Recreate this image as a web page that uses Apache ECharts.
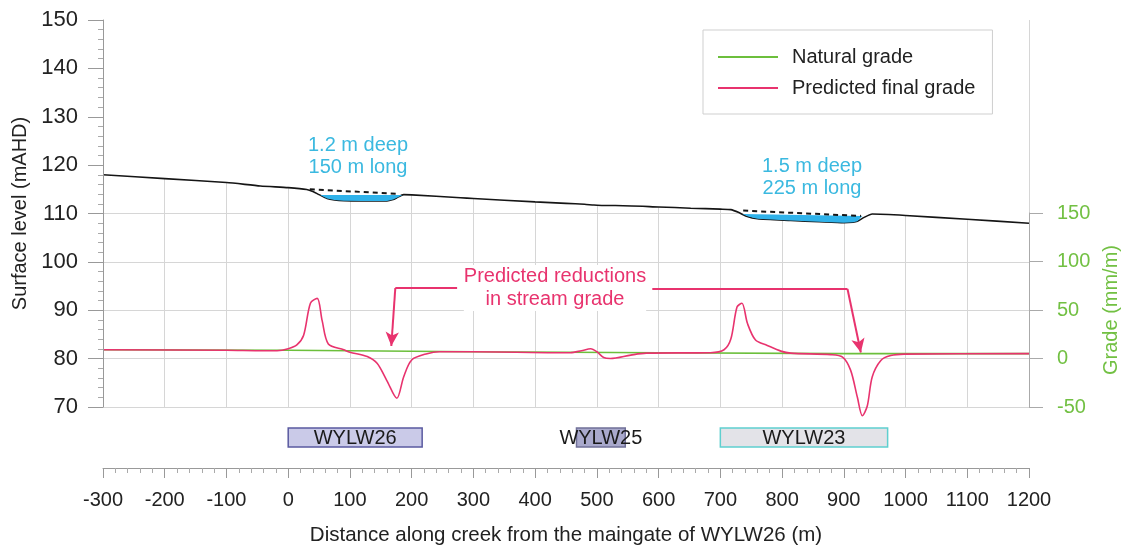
<!DOCTYPE html>
<html>
<head>
<meta charset="utf-8">
<script src="https://cdn.jsdelivr.net/npm/echarts@6/dist/echarts.min.js"></script>
<style>html,body{margin:0;padding:0;background:#fff}#c{width:1123px;height:550px}</style>
</head>
<body>
<div id="c"></div>
<script>
// ---------- data ----------
// final surface (mAHD)
const surfX = [-300,-200,-100,-45,0,30,40,50,63,75,90,120,160,170,176,187,200,279,300,400,450,480,495,510,530,600,652,700,717,730,741,760,814,860,900,915,922,933,946,1000,1100,1200];
const surfY = [118.0,117.2,116.4,115.7,115.35,114.97,114.55,113.9,113.1,112.8,112.65,112.6,112.6,112.9,113.25,113.9,113.85,113.25,113.1,112.4,112.1,111.9,111.75,111.65,111.65,111.35,111.1,110.9,110.8,110.2,109.5,108.9,108.55,108.3,108.1,108.2,108.4,109.2,109.9,109.6,108.8,108.0];
// original surface over the depressions (dashed)
const origX = [35,180,null,737,928];
const origY = [115.0,114.05,null,110.6,109.5];
// ponded areas (closed polygons)
const pond1X = [52,185,176,170,160,120,90,75,63,55];
const pond1Y = [113.8,113.8,113.25,112.9,112.6,112.6,112.65,112.8,113.1,113.6];
const pond2X = [736,930,922,915,900,860,814,760,745];
const pond2Y = [109.9,109.5,108.4,108.2,108.1,108.3,108.55,108.9,109.4];
// grades (mm/m)
const natX = [-300,0,300,600,900,1200];
const natY = [9,8.5,7,6,5,5];
const predX = [-300,-100,-40,-18,0,14,25,36,47,55,65,90,100,128,144,160,176,187,200,225,245,300,440,457,475,490,500,511,522,555,580,684,706,717,727,735,744,757,776,798,814,879,898,911,922,930,938,946,960,976,998,1200];
const predY = [9,8.5,8,8,10,14,24,57,62,39,15,9,6.5,2,-5,-23,-41,-19,-1.5,5,7,7,6,6,8,10,7,1,0,3.5,5.5,6,9,20,53,57,36,19,13.5,7.6,5.5,4,1.5,-12,-40,-59,-49,-19,-2,3,4.5,5];
// panels along the creek
const boxNames = ['WYLW26','WYLW25','WYLW23'];
const boxStart = [0,467,700];
const boxEnd = [217,546,971];
// annotation arrows (data coords on surface axis)
const annLeft = [[273.6,94.6],[173.5,94.6],[167,82.6]];
const annRight = [[589.8,94.4],[906,94.4],[927.6,81.25]];

// ---------- chart ----------
const FONT = 'Liberation Sans, Arial, sans-serif';
const PINK = '#e8336e', GREEN = '#6cbf3c', CYAN = '#3bb9e0', GRID = '#d6d6d6';
const zip = (xs, ys) => xs.map((x, i) => x === null ? [null, null] : [x, ys[i]]);
const boxStyles = [
  {fill:'#cacae8', stroke:'#5a5aa0'},
  {fill:'#a9a9cc', stroke:'#707098'},
  {fill:'#e3e3e8', stroke:'#5fcfcf'}
];
const ponds = [[pond1X,pond1Y],[pond2X,pond2Y]];

const chart = echarts.init(document.getElementById('c'), null, {renderer:'canvas'});
const gridBase = {left: 103, right: 94, containLabel: false, outerBoundsMode: 'none'};
const option = {
  animation: false,
  backgroundColor: '#fff',
  textStyle: {fontFamily: FONT},
  legend: {
    data: ['Natural grade','Predicted final grade'],
    orient: 'vertical', left: 703, top: 30, z: 20,
    padding: [17, 17, 16, 15], itemGap: 11,
    itemWidth: 60, itemHeight: 2, icon: 'rect',
    borderColor: '#cfcfcf', borderWidth: 1, backgroundColor: '#fff',
    textStyle: {fontSize: 20, color: '#222', lineHeight: 20, padding: [0,0,0,9], fontFamily: FONT}
  },
  grid: [
    Object.assign({}, gridBase, {top: 20, bottom: 143}),
    Object.assign({}, gridBase, {top: 428, bottom: 103}),
    Object.assign({}, gridBase, {top: 213, bottom: 143})
  ],
  xAxis: [
    {gridIndex:0, type:'value', min:-300, max:1200, interval:100, offset:61, z:10,
     axisLine:{show:true, onZero:false, lineStyle:{color:'#999'}},
     axisTick:{show:true, length:10, lineStyle:{color:'#999'}},
     minorTick:{show:true, splitNumber:5, length:5, lineStyle:{color:'#aaa'}},
     axisLabel:{fontSize:20, color:'#222', margin:22, fontFamily:FONT, formatter: v => String(v)},
     splitLine:{show:false},
     name:'Distance along creek from the maingate of WYLW26 (m)', nameLocation:'middle', nameGap:57,
     nameTextStyle:{fontSize:20.5, color:'#222', fontFamily:FONT}},
    {gridIndex:1, type:'value', min:-300, max:1200, show:false},
    {gridIndex:2, type:'value', min:-300, max:1200, show:false},
    // grid-line-only axis
    {gridIndex:0, type:'value', min:-300, max:1200, interval:100, z:0,
     axisLine:{show:false}, axisTick:{show:false}, axisLabel:{show:false},
     splitLine:{show:true, lineStyle:{color:GRID}}}
  ],
  yAxis: [
    {gridIndex:0, type:'value', min:70, max:150, interval:10, z:10,
     axisLine:{show:true, onZero:false, lineStyle:{color:'#999'}},
     axisTick:{show:true, length:15, lineStyle:{color:'#999'}},
     minorTick:{show:true, splitNumber:5, length:5, lineStyle:{color:'#aaa'}},
     axisLabel:{fontSize:22, color:'#222', margin:25, fontFamily:FONT},
     splitLine:{show:false},
     name:'Surface level (mAHD)', nameLocation:'middle', nameGap:68,
     nameTextStyle:{fontSize:20, color:'#222', fontFamily:FONT}},
    {gridIndex:1, type:'value', min:0, max:1, show:false},
    {gridIndex:2, type:'value', min:-50, max:150, interval:50, position:'right', z:10,
     axisLine:{show:true, onZero:false, lineStyle:{color:'#aaa'}},
     axisTick:{show:true, length:14, lineStyle:{color:'#aaa'}},
     axisLabel:{fontSize:20, color:'#72c043', margin:28, fontFamily:FONT},
     splitLine:{show:false},
     name:'Grade (mm/m)', nameLocation:'middle', nameGap:62, nameRotate:90,
     nameTextStyle:{fontSize:20, color:'#72c043', fontFamily:FONT}},
    // grid-line-only axis
    {gridIndex:0, type:'value', min:70, max:150, interval:10, z:0,
     axisLine:{show:false}, axisTick:{show:false}, axisLabel:{show:false},
     splitLine:{show:true, lineStyle:{color:GRID}}}
  ],
  series: [
    {name:'Final surface', type:'line', xAxisIndex:0, yAxisIndex:0, z:5,
     data: zip(surfX, surfY), symbol:'none', smooth:0.2,
     lineStyle:{color:'#151515', width:1.6},
     areaStyle:{color:'#ffffff', opacity:1, origin:'end'},
     markLine: {
       silent:true, animation:false, label:{show:false},
       lineStyle:{color:PINK, width:2, type:'solid'},
       data: [
         [{coord:annLeft[0], symbol:'none'},{coord:annLeft[1], symbol:'none'}],
         [{coord:annLeft[1], symbol:'none'},{coord:annLeft[2], symbol:'arrow', symbolSize:[10,14]}],
         [{coord:annRight[0], symbol:'none'},{coord:annRight[1], symbol:'none'}],
         [{coord:annRight[1], symbol:'none'},{coord:annRight[2], symbol:'arrow', symbolSize:[10,14]}]
       ]
     }},
    {name:'ponds', type:'custom', xAxisIndex:0, yAxisIndex:0, z:6,
     data: ponds.map((p, i) => [i]),
     renderItem: function(params, api) {
       const p = ponds[api.value(0)];
       const pts = p[0].map((x, i) => api.coord([x, p[1][i]]));
       return {type:'polygon', shape:{points:pts}, style:{fill:'#2fb2ea', stroke:null}};
     }},
    {name:'Original surface', type:'line', xAxisIndex:0, yAxisIndex:0, z:7,
     data: zip(origX, origY), symbol:'none', connectNulls:false,
     lineStyle:{color:'#151515', width:2, type:[5,4]}},
    {name:'Natural grade', type:'line', xAxisIndex:2, yAxisIndex:2, z:4,
     data: zip(natX, natY), symbol:'none', color:GREEN,
     lineStyle:{color:GREEN, width:1.6}},
    {name:'Predicted final grade', type:'line', xAxisIndex:2, yAxisIndex:2, z:5,
     data: zip(predX, predY), symbol:'none', smooth:0.3, clip:false, color:PINK,
     lineStyle:{color:PINK, width:1.6}},
    {name:'panels', type:'custom', xAxisIndex:1, yAxisIndex:1, z:5,
     data: boxNames.map((n, i) => [boxStart[i], boxEnd[i], i]),
     renderItem: function(params, api) {
       const i = api.value(2);
       const s = api.coord([api.value(0), 1]);
       const e = api.coord([api.value(1), 0]);
       return {type:'group', children:[
         {type:'rect', shape:{x:s[0], y:s[1], width:e[0]-s[0], height:e[1]-s[1]},
          style:{fill:boxStyles[i].fill, stroke:boxStyles[i].stroke, lineWidth:1.5}},
         {type:'text', style:{text:boxNames[i], x:(s[0]+e[0])/2, y:(s[1]+e[1])/2 + 1,
          align:'center', verticalAlign:'middle', fontSize:20, fontFamily:FONT, fill:'#1a1a1a'}}
       ]};
     }}
  ],
  graphic: [
    {type:'text', z:100, x:358, y:156, style:{text:'1.2 m deep\n150 m long', fill:CYAN, fontSize:20, fontFamily:FONT, align:'center', verticalAlign:'middle', lineHeight:22}},
    {type:'text', z:100, x:812, y:177, style:{text:'1.5 m deep\n225 m long', fill:CYAN, fontSize:20, fontFamily:FONT, align:'center', verticalAlign:'middle', lineHeight:22}},
    {type:'text', z:100, x:555, y:288, style:{text:'Predicted reductions\nin stream grade', fill:PINK, fontSize:20, fontFamily:FONT, align:'center', verticalAlign:'middle', lineHeight:23, backgroundColor:'#fff'}}
  ]
};
chart.setOption(option);
</script>
</body>
</html>
